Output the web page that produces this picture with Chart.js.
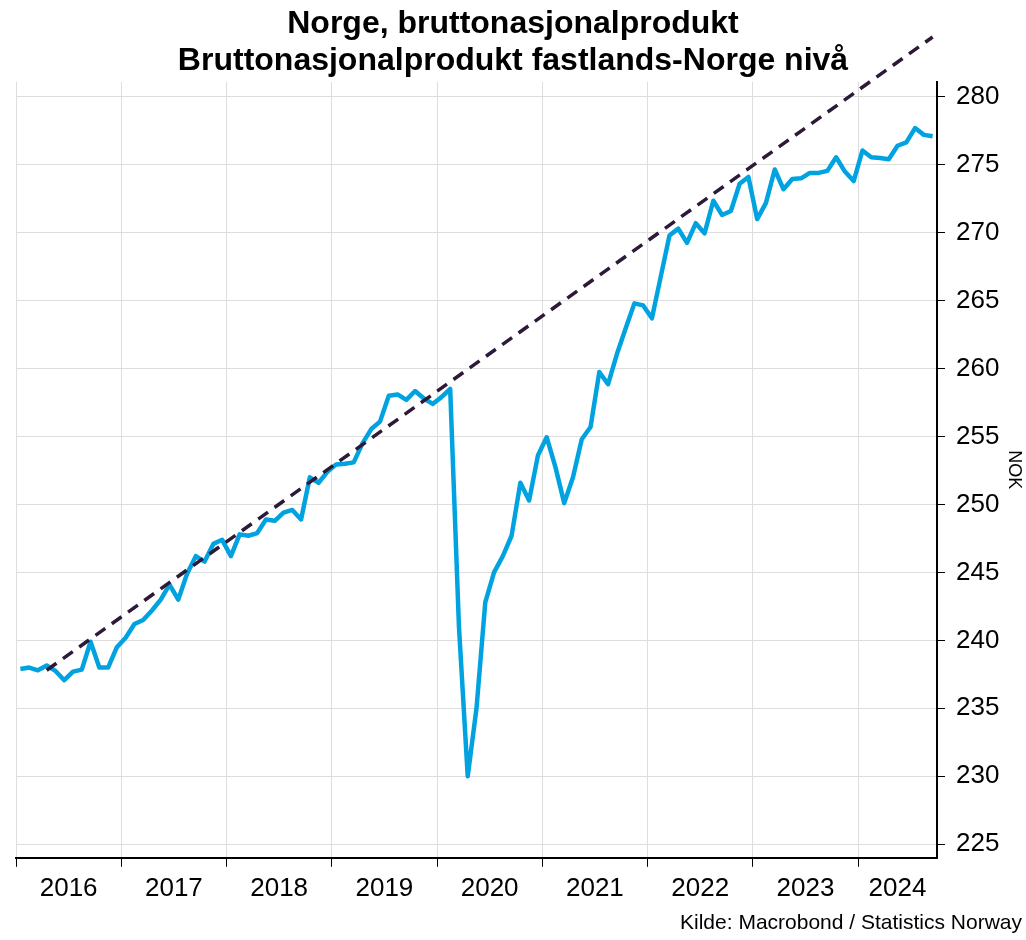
<!DOCTYPE html>
<html>
<head>
<meta charset="utf-8">
<title>Norge, bruttonasjonalprodukt</title>
<script src="https://cdn.jsdelivr.net/npm/chart.js@4.4.1/dist/chart.umd.min.js"></script>
<style>
  html, body { margin: 0; padding: 0; background: #fff; }
</style>
</head>
<body>
<canvas id="gdp-chart" width="1026" height="940"></canvas>
<script>
// data (monthly, Jan 2016 - Sep 2024, x = month index from Jan 2016)
const yearLabels = ['2016', '2017', '2018', '2019', '2020', '2021', '2022', '2023', '2024']
const gdpValues = [
  237.9, 238.0, 237.8, 238.15, 237.75, 237.07, 237.7, 237.85, 239.9, 238.0, 238.0, 239.5,
  240.2, 241.2, 241.5, 242.2, 243.0, 244.1, 243.0, 244.9, 246.2, 245.8, 247.1, 247.4,
  246.2, 247.8, 247.7, 247.9, 248.9, 248.8, 249.4, 249.6, 248.9, 252.0, 251.6, 252.4,
  252.95, 253.0, 253.1, 254.5, 255.55, 256.1, 258.0, 258.1, 257.7, 258.35, 257.8, 257.4,
  257.9, 258.5, 241.0, 230.0, 235.0, 242.8, 245.0, 246.2, 247.7, 251.6, 250.3, 253.6,
  254.95, 252.75, 250.1, 252.0, 254.8, 255.7, 259.75, 258.85, 261.05, 262.95, 264.8, 264.65,
  263.7, 266.75, 269.8, 270.3, 269.25, 270.7, 269.95, 272.35, 271.3, 271.6, 273.6, 274.1,
  271.0, 272.2, 274.65, 273.2, 273.95, 274.0, 274.4, 274.4, 274.55, 275.55, 274.5, 273.8,
  276.05, 275.55, 275.5, 275.4, 276.4, 276.65, 277.7, 277.2, 277.1,
]
const trendMonths = [3, 104]
const trendValues = [237.8, 284.4]
const yTicks = [225, 230, 235, 240, 245, 250, 255, 260, 265, 270, 275, 280]

const FONT = "'Liberation Sans', Arial, sans-serif"
const xMin = -0.5
const xMax = gdpValues.length - 0.5
const yearStarts = yearLabels.map((y, i) => xMin + i * 12)
const yearMids = yearStarts.map((s) => (s + Math.min(s + 12, xMax)) / 2)

printGdpChart()

function printGdpChart() {
  const ctx = document.querySelector('#gdp-chart')
  const gdpChart = new Chart(ctx, {
    type: 'line',
    data: {
      datasets: [
        {
          label: 'Trend',
          data: trendMonths.map((m, i) => ({ x: m, y: trendValues[i] })),
          xAxisID: 'x',
          yAxisID: 'y',
          borderColor: '#2c1a38',
          borderWidth: 3.5,
          borderDash: [12, 8],
          pointRadius: 0,
          fill: false,
          clip: false,
        },
        {
          label: 'Bruttonasjonalprodukt fastlands-Norge',
          data: gdpValues.map((v, i) => ({ x: i, y: v })),
          xAxisID: 'x',
          yAxisID: 'y',
          borderColor: '#00a3e0',
          borderWidth: 4.5,
          borderJoinStyle: 'round',
          pointRadius: 0,
          fill: false,
        },
      ],
    },
    options: {
      responsive: false,
      animation: false,
      layout: { padding: { left: 4, right: 4, top: 0, bottom: 0 } },
      plugins: {
        legend: { display: false },
        tooltip: { enabled: false },
        title: {
          display: true,
          text: ['Norge, bruttonasjonalprodukt', 'Bruttonasjonalprodukt fastlands-Norge nivå'],
          color: '#000',
          font: { family: FONT, size: 32, weight: 'bold', lineHeight: 1.17 },
          padding: { top: 5, bottom: 2 },
        },
        subtitle: {
          display: true,
          position: 'bottom',
          align: 'end',
          text: 'Kilde: Macrobond / Statistics Norway',
          color: '#000',
          font: { family: FONT, size: 21, lineHeight: 1.2 },
          padding: { top: 0, bottom: 4 },
        },
      },
      scales: {
        y: {
          type: 'linear',
          position: 'right',
          min: 224,
          max: 281.1,
          afterBuildTicks: (scale) => {
            scale.ticks = yTicks.map((v) => ({ value: v }))
          },
          afterFit: (scale) => {
            scale.width = 85
          },
          grid: { color: '#dddddd', lineWidth: 1, tickColor: '#000', tickLength: 8 },
          border: { color: '#000', width: 2 },
          ticks: {
            color: '#000',
            font: { family: FONT, size: 26 },
            padding: 11,
          },
          title: {
            display: true,
            text: 'NOK',
            color: '#000',
            font: { family: FONT, size: 18 },
            padding: { top: -3, bottom: 0 },
          },
        },
        yL: {
          type: 'linear',
          position: 'left',
          grid: { display: false, drawTicks: false },
          border: { display: false },
          ticks: { display: false },
          afterFit: (scale) => {
            scale.width = 12
          },
        },
        x: {
          type: 'linear',
          min: xMin,
          max: xMax,
          afterBuildTicks: (scale) => {
            scale.ticks = yearStarts.map((v) => ({ value: v }))
          },
          ticks: { display: false },
          grid: { color: '#dddddd', lineWidth: 1, tickColor: '#000', tickLength: 9 },
          border: { color: '#000', width: 2 },
        },
        x2: {
          type: 'linear',
          position: 'bottom',
          weight: 1,
          min: xMin,
          max: xMax,
          afterBuildTicks: (scale) => {
            scale.ticks = yearMids.map((v) => ({ value: v }))
          },
          grid: { display: false, drawTicks: false },
          border: { display: false },
          ticks: {
            color: '#000',
            font: { family: FONT, size: 26, lineHeight: 1 },
            padding: 9,
            maxRotation: 0,
            autoSkip: false,
            callback: (value, index) => yearLabels[index],
          },
        },
      },
    },
  })
}
</script>
</body>
</html>
